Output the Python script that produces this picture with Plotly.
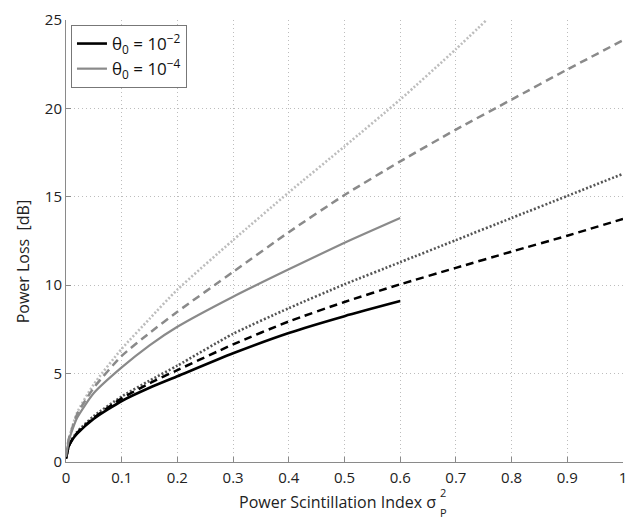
import plotly.graph_objects as go

# ---- data ----
x_short = [0, 0.005, 0.01, 0.02, 0.05, 0.1, 0.15, 0.2, 0.3, 0.4, 0.5, 0.6]
x_full = [0, 0.005, 0.01, 0.02, 0.05, 0.1, 0.15, 0.2, 0.3, 0.4, 0.5, 0.6, 0.7, 0.8, 0.9, 1.0]
x_light = [0, 0.005, 0.01, 0.02, 0.05, 0.1, 0.15, 0.2, 0.3, 0.4, 0.5, 0.6, 0.7, 0.755]

black_solid = [0.2, 0.9, 1.2, 1.6, 2.45, 3.45, 4.2, 4.85, 6.15, 7.3, 8.25, 9.1]
gray_solid = [0.3, 1.2, 1.7, 2.5, 3.9, 5.35, 6.6, 7.65, 9.35, 10.9, 12.4, 13.8]
black_dashed = [0.2, 0.9, 1.2, 1.65, 2.5, 3.6, 4.45, 5.2, 6.65, 7.95, 9.05, 10.05, 10.98, 11.9, 12.8, 13.75]
black_dotted = [0.2, 0.9, 1.25, 1.7, 2.6, 3.7, 4.6, 5.45, 7.25, 8.7, 10.05, 11.3, 12.55, 13.8, 15.05, 16.3]
gray_dashed = [0.3, 1.3, 1.8, 2.7, 4.2, 6.0, 7.3, 8.5, 10.75, 13.0, 15.1, 17.0, 18.8, 20.5, 22.2, 23.85]
gray_dotted = [0.3, 1.3, 1.85, 2.8, 4.4, 6.4, 8.1, 9.75, 12.55, 15.25, 17.85, 20.5, 23.35, 25.0]

x_ticks = [0, 0.1, 0.2, 0.3, 0.4, 0.5, 0.6, 0.7, 0.8, 0.9, 1.0]
x_tick_text = ["0", "0.1", "0.2", "0.3", "0.4", "0.5", "0.6", "0.7", "0.8", "0.9", "1"]
y_ticks = [0, 5, 10, 15, 20, 25]
y_tick_text = ["0", "5", "10", "15", "20", "25"]
legend_names = ["θ<sub>0</sub> = 10<sup>−2</sup>", "θ<sub>0</sub> = 10<sup>−4</sup>"]

FONT = "Open Sans"
fig = go.Figure()

def add(x, y, color, width, dash, name=None):
    fig.add_trace(go.Scatter(
        x=x, y=y, mode="lines", name=name, showlegend=name is not None,
        line=dict(color=color, width=width, dash=dash, shape="spline", smoothing=0.6)))

add(x_light, gray_dotted, "#bdbdbd", 2.6, "2px,2px")
add(x_full, gray_dashed, "#8a8a8a", 2.5, "8px,5px")
add(x_full, black_dotted, "#555555", 2.6, "2px,2px")
add(x_full, black_dashed, "#000000", 2.5, "8px,5px")
add(x_short, black_solid, "#000000", 2.6, "solid", legend_names[0])
add(x_short, gray_solid, "#8a8a8a", 2.2, "solid", legend_names[1])

axis_common = dict(showline=True, linecolor="#8a8a8a", linewidth=1,
                   ticks="inside", ticklen=5, tickcolor="#8a8a8a",
                   showgrid=True, gridcolor="#bdbdbd", griddash="1px,3px", gridwidth=1,
                   zeroline=False, mirror=False,
                   tickfont=dict(family=FONT, size=15, color="#222222"))

fig.update_xaxes(range=[0, 1], tickvals=x_ticks, ticktext=x_tick_text, ticklabelstandoff=2,
                 **axis_common)
fig.update_yaxes(range=[0, 25], tickvals=y_ticks, ticktext=y_tick_text, **axis_common)

# axis titles as annotations
plot_l, plot_r, plot_t, plot_b = 66, 627, 20, 462
pw, ph = plot_r - plot_l, plot_b - plot_t
def px(xp):
    return (xp - plot_l) / pw
def py(yp):
    return (plot_b - yp) / ph

fig.add_annotation(text="Power Scintillation Index σ", xref="paper", yref="paper",
                   x=px(441), y=py(502), xanchor="right", yanchor="middle", showarrow=False,
                   font=dict(family=FONT, size=16, color="#222222"))
fig.add_annotation(text="2", xref="paper", yref="paper",
                   x=px(441), y=py(492), xanchor="left", yanchor="middle", showarrow=False,
                   font=dict(family=FONT, size=11, color="#222222"))
fig.add_annotation(text="P", xref="paper", yref="paper",
                   x=px(441), y=py(512), xanchor="left", yanchor="middle", showarrow=False,
                   font=dict(family=FONT, size=11, color="#222222"))
fig.add_annotation(text="Power Loss  [dB]", xref="paper", yref="paper",
                   x=px(23), y=py(262), xanchor="center", yanchor="middle", showarrow=False,
                   textangle=-90, font=dict(family=FONT, size=16, color="#222222"))

fig.update_layout(
    width=633, height=520,
    margin=dict(l=plot_l, r=633 - plot_r, t=plot_t, b=520 - plot_b),
    paper_bgcolor="white", plot_bgcolor="white",
    legend=dict(x=px(71), y=py(25), xanchor="left", yanchor="top",
                bgcolor="white", bordercolor="#777777", borderwidth=1,
                font=dict(family=FONT, size=17, color="#111111"),
                tracegroupgap=0, itemwidth=30),
)

fig.write_html("out.html")
